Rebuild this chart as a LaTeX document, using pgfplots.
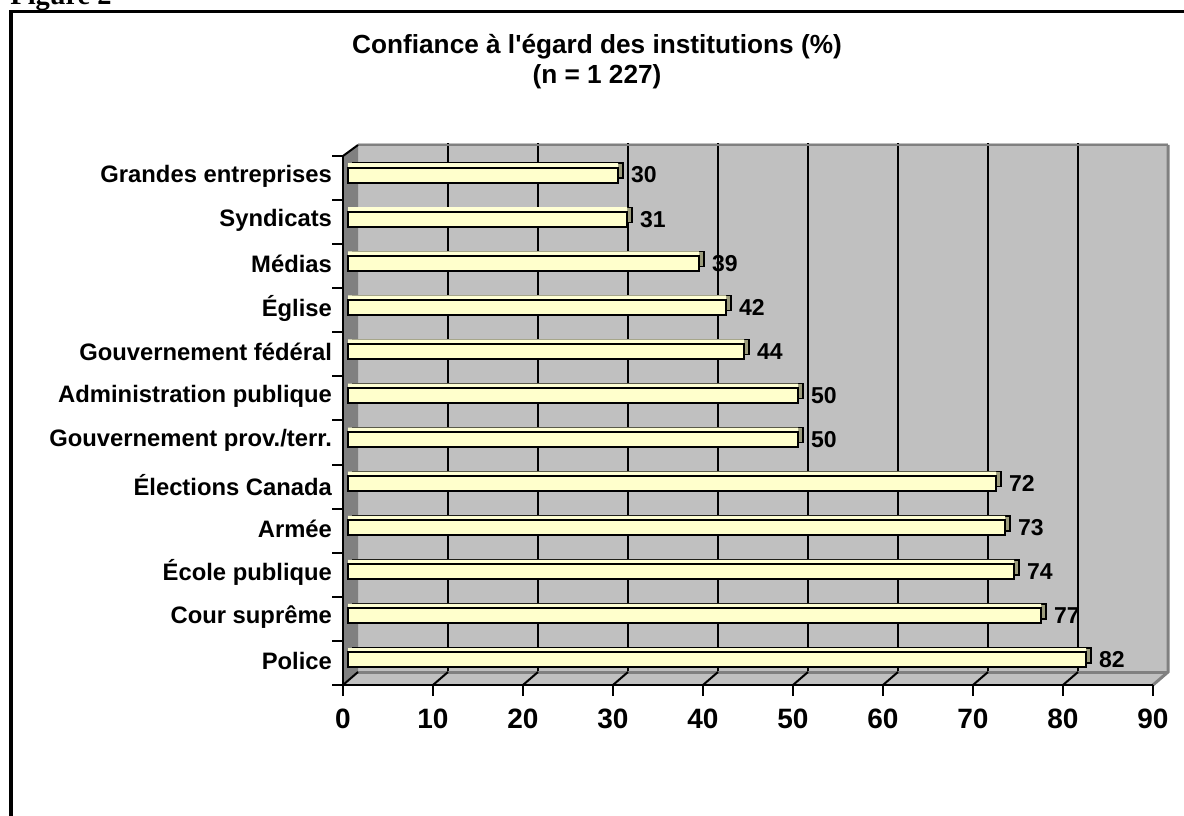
\documentclass[border=0pt]{standalone}
\usepackage{pgfplots}
\pgfplotsset{compat=1.18}
\usepackage{fontspec}
\setmainfont{Liberation Sans}
\newfontfamily\timesfont{Liberation Serif}
\definecolor{wall}{HTML}{C0C0C0}
\definecolor{dwall}{HTML}{808080}
\definecolor{barfill}{HTML}{FFFFCC}
\definecolor{barside}{HTML}{9C9C7C}
\begin{document}
\begin{tikzpicture}
\clip (0,0) rectangle (592pt,407.5pt);
\path[use as bounding box] (0,0) rectangle (592pt,407.5pt);
% back wall with grid
\begin{axis}[
  at={(179pt,71.5pt)}, anchor=south west,
  scale only axis, width=405pt, height=264.5pt,
  xmin=0, xmax=90, ymin=-0.5, ymax=11.5,
  axis background/.style={fill=wall},
  axis line style={draw=none},
  xtick={10,20,...,80}, ytick=\empty,
  xticklabels={}, major tick length=0pt,
  xmajorgrids, grid style={black, line width=1pt},
]
\addplot[draw=none] coordinates {(0,0)};
\end{axis}
\begin{scope}[x=0.5pt, y=-0.5pt, shift={(0pt,407.5pt)}]
  % left wall
  \fill[dwall] (343,156) -- (358,145) -- (358,672) -- (343,685) -- cycle;
  % floor
  \fill[wall] (343,685) -- (358,672) -- (1168,672) -- (1153,685) -- cycle;
  \draw[dwall, line width=1.5pt] (358,672) -- (1168,672);
  % back wall borders
  \draw[dwall, line width=1pt] (358,145) -- (1168,145);
  \draw[dwall, line width=1.5pt] (1168,145) -- (1168,672) -- (1153,685);
  \draw[black, line width=1pt] (343,156) -- (358,145);
  \foreach \k in {0,...,8} {
    \draw[black, line width=1pt] ({343+90*\k},685) -- ({358+90*\k},672);
  }
  % frame
  \draw[black, line width=1.75pt] (11,11.5) rectangle (1250,900);
  % Figure 2 (cut off)
  \node[anchor=base west, inner sep=0pt, font=\timesfont\bfseries\fontsize{14.2}{16}\selectfont] at (10,5) {Figure 2};
  % title
  \node[anchor=base, inner sep=0pt, font=\bfseries\fontsize{13.1}{15}\selectfont] at (597,54) {Confiance à l\textquotesingle égard des institutions (\%)};
  \node[anchor=base, inner sep=0pt, font=\bfseries\fontsize{13.1}{15}\selectfont] at (597,84) {(n = 1 227)};
\end{scope}
% front axis with bars
\begin{axis}[
  at={(171.5pt,65pt)}, anchor=south west,
  scale only axis, width=405pt, height=264.5pt,
  xmin=0, xmax=90, ymin=-0.5, ymax=11.5,
  axis x line*=bottom, axis y line*=left,
  axis line style={line width=1pt, -},
  xtick={0,10,...,90},
  ytick={-0.5,0.5,...,11.5},
  y tick label as interval,
  yticklabels={Police, Cour suprême, École publique, Armée, Élections Canada, Gouvernement prov./terr., Administration publique, Gouvernement fédéral, Église, Médias, Syndicats, Grandes entreprises},
  tick align=outside,
  major tick length=5.5pt,
  tick style={black, line width=1pt},
  xticklabel style={font=\bfseries\fontsize{14}{16}\selectfont, yshift=-3pt},
  yticklabel style={font=\bfseries\fontsize{11.9}{14}\selectfont, xshift=3.5pt, yshift=1pt},
  /pgf/number format/assume math mode=true,
  clip=false,
]
\pgfplotstableread{
y v
0 82
1 77
2 74
3 73
4 72
5 50
6 50
7 44
8 42
9 39
10 31
11 30
}\datatable
\addplot[xbar, bar shift=0pt, bar width=7.5pt, fill=barside, draw=black, line width=0.7pt, xshift=5pt, yshift=3.7pt] table[x=v, y=y] {\datatable};
\addplot[xbar, bar shift=0pt, bar width=7.5pt, fill=barfill!85!white, draw=none, xshift=2.5pt, yshift=3.7pt] table[x=v, y=y] {\datatable};
\addplot[xbar, bar shift=0pt, bar width=7.5pt, fill=barfill, draw=black, line width=1pt, xshift=2.5pt, yshift=1.5pt,
  nodes near coords,
  nodes near coords style={font=\bfseries\fontsize{11.5}{13}\selectfont, anchor=west, inner sep=1pt, xshift=5pt, text=black}] table[x=v, y=y] {\datatable};
\end{axis}
\end{tikzpicture}
\end{document}
